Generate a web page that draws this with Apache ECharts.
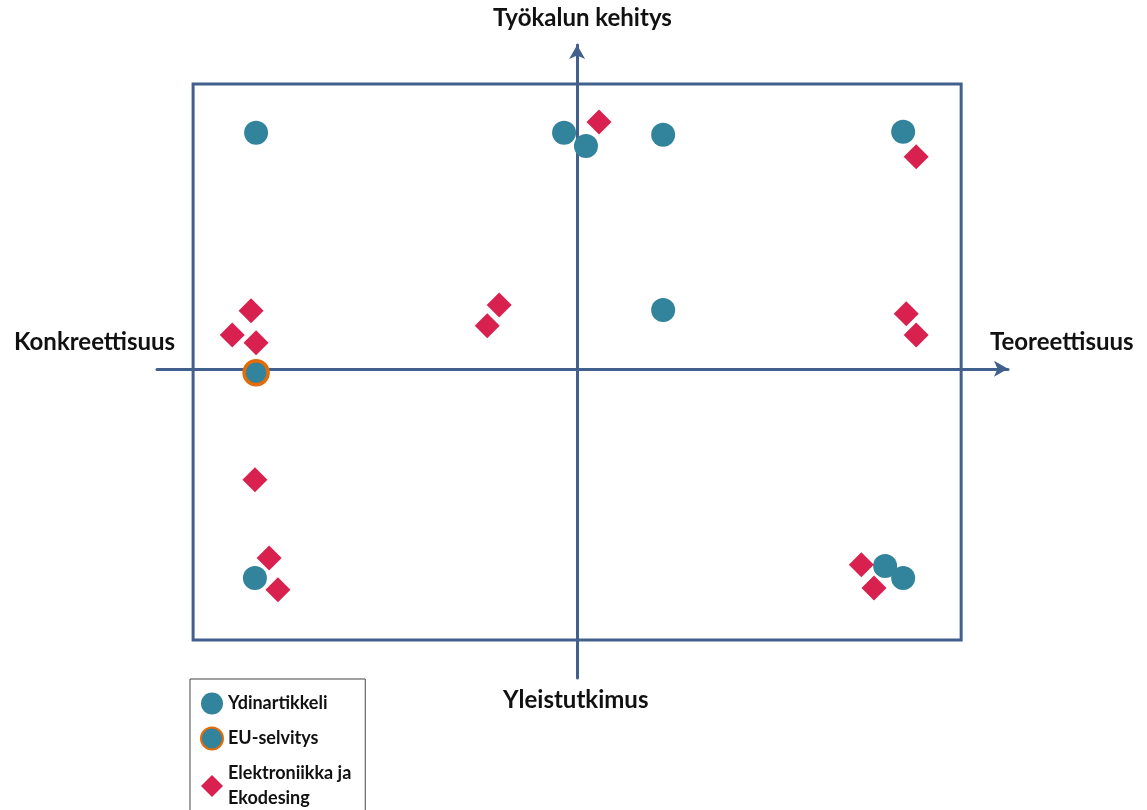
<!DOCTYPE html>
<html>
<head>
<meta charset="utf-8">
<script src="https://cdn.jsdelivr.net/npm/echarts@6/dist/echarts.min.js"></script>
<style>
  html, body { margin: 0; padding: 0; background: #fff; }
  #main { width: 1147px; height: 810px; }
</style>
</head>
<body>
<div id="main"></div>
<script>
// akselien päätepisteet (x: konkreettisuus -> teoreettisuus, y: yleistutkimus -> työkalun kehitys)
const xRange = [-10.94, 11.22];
const yRange = [-11.12, 11.65];
// kehys
const frameBox = [[-10, -9.75], [10, 10.25]];

const seriesNames = ['Ydinartikkeli', 'EU-selvitys', 'Elektroniikka ja\nEkodesing'];

const ydinData = [
  [-8.36, 8.49], [-0.34, 8.49], [0.23, 8.02], [2.24, 8.42], [8.49, 8.53],
  [2.24, 2.12], [-8.39, -7.52], [8.02, -7.09], [8.49, -7.52]
];
const euData = [[-8.36, -0.14]];
const elektroData = [
  [0.57, 8.88], [8.83, 7.63], [-8.49, 2.09], [-8.98, 1.22], [-8.36, 0.94],
  [-2.03, 2.30], [-2.34, 1.55], [8.57, 1.98], [8.83, 1.22], [-8.39, -3.99],
  [-8.02, -6.80], [-7.79, -7.95], [7.40, -7.05], [7.73, -7.88]
];

const axisLabels = {
  left: 'Konkreettisuus',
  right: 'Teoreettisuus',
  top: 'Työkalun kehitys',
  bottom: 'Yleistutkimus'
};

const blue = '#41608d';
const teal = '#31849b';
const red = '#d9214f';
const orange = '#e36c09';
const font = 'Lato, "Open Sans", sans-serif';

const chart = echarts.init(document.getElementById('main'));

const axisCommon = {
  type: 'value',
  axisLine: {
    onZero: true,
    symbol: ['none', 'arrow'],
    symbolSize: [12, 14],
    lineStyle: { color: blue, width: 3 }
  },
  axisTick: { show: false },
  axisLabel: { show: false },
  splitLine: { show: false }
};

const option = {
  animation: false,
  grid: { left: 157, right: 139, top: 45, bottom: 132 },
  xAxis: Object.assign({}, axisCommon, { min: xRange[0], max: xRange[1] }),
  yAxis: Object.assign({}, axisCommon, { min: yRange[0], max: yRange[1] }),
  legend: {
    orient: 'vertical',
    left: 190,
    top: 679,
    width: 177,
    height: 150,
    padding: [12, 14, 20, 10],
    itemGap: 10,
    itemWidth: 22,
    itemHeight: 22,
    borderColor: '#444',
    borderWidth: 1,
    textStyle: { fontFamily: font, fontWeight: 'bold', fontSize: 18, color: '#111', lineHeight: 25 },
    data: seriesNames
  },
  graphic: [
    { type: 'text', left: 14, top: 330, style: { text: axisLabels.left, font: 'bold 24px ' + font, fill: '#111' } },
    { type: 'text', left: 990, top: 330, style: { text: axisLabels.right, font: 'bold 24px ' + font, fill: '#111' } },
    { type: 'text', left: 493, top: 6, style: { text: axisLabels.top, font: 'bold 24px ' + font, fill: '#111' } },
    { type: 'text', left: 503, top: 688, style: { text: axisLabels.bottom, font: 'bold 24px ' + font, fill: '#111' } }
  ],
  series: [
    {
      name: seriesNames[0],
      type: 'scatter',
      symbol: 'circle',
      symbolSize: 24,
      itemStyle: { color: teal, opacity: 1 },
      data: ydinData,
      z: 3,
      markArea: {
        silent: true,
        itemStyle: { color: 'rgba(0,0,0,0)', borderColor: blue, borderWidth: 3 },
        data: [[{ coord: frameBox[0] }, { coord: frameBox[1] }]]
      }
    },
    {
      name: seriesNames[1],
      type: 'scatter',
      symbol: 'circle',
      symbolSize: 24,
      itemStyle: { color: teal, borderColor: orange, borderWidth: 3.5, opacity: 1 },
      data: euData,
      z: 3
    },
    {
      name: seriesNames[2],
      type: 'scatter',
      symbol: 'diamond',
      symbolSize: 25,
      itemStyle: { color: red, opacity: 1 },
      data: elektroData,
      z: 3
    }
  ]
};

chart.setOption(option);
</script>
</body>
</html>
